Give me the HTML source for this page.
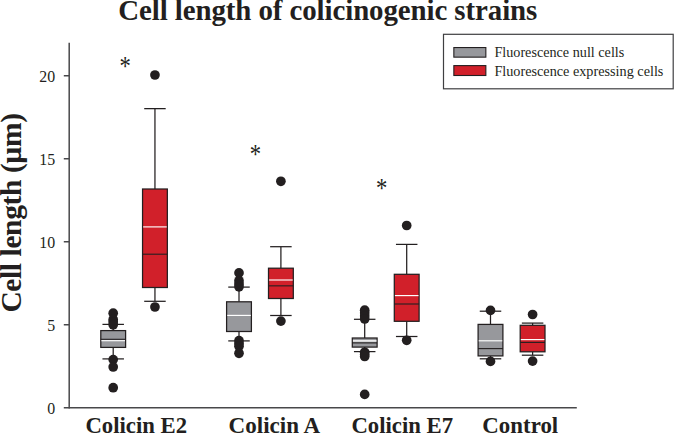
<!DOCTYPE html>
<html lang="en"><head><meta charset="utf-8"><title>Cell length of colicinogenic strains</title>
<style>html,body{margin:0;padding:0;background:#fff}svg{display:block}text{font-family:"Liberation Serif","Times New Roman",serif;fill:#231f20}.b{font-weight:bold}</style></head><body>
<svg width="675" height="434" viewBox="0 0 675 434">
<rect x="0" y="0" width="675" height="434" fill="#fff"/>
<text class="b" x="118.3" y="20.3" font-size="28.9" textLength="419.0" lengthAdjust="spacing">Cell length of colicinogenic strains</text>
<text class="b" transform="translate(20.5,312.6) rotate(-90)" font-size="29.5" textLength="199.6" lengthAdjust="spacing">Cell length (µm)</text>
<g stroke="#48484a" stroke-width="1.5" fill="none">
<line x1="69.2" y1="42.7" x2="69.2" y2="408.5"/>
<line x1="63.800000000000004" y1="407.75" x2="576.8" y2="407.75"/>
<line x1="63.800000000000004" y1="324.75" x2="69.2" y2="324.75"/>
<line x1="63.800000000000004" y1="241.75" x2="69.2" y2="241.75"/>
<line x1="63.800000000000004" y1="158.75" x2="69.2" y2="158.75"/>
<line x1="63.800000000000004" y1="75.75" x2="69.2" y2="75.75"/>
</g>
<text transform="translate(55.2,413.70) scale(0.93,1)" font-size="17.1" text-anchor="end">0</text>
<text transform="translate(55.2,330.70) scale(0.93,1)" font-size="17.1" text-anchor="end">5</text>
<text transform="translate(55.2,247.70) scale(0.93,1)" font-size="17.1" text-anchor="end">10</text>
<text transform="translate(55.2,164.70) scale(0.93,1)" font-size="17.1" text-anchor="end">15</text>
<text transform="translate(55.2,81.70) scale(0.93,1)" font-size="17.1" text-anchor="end">20</text>
<text class="b" x="85.4" y="432.8" font-size="23.4" textLength="101.7" lengthAdjust="spacingAndGlyphs">Colicin E2</text>
<text class="b" x="228.6" y="432.8" font-size="23.4" textLength="91.6" lengthAdjust="spacingAndGlyphs">Colicin A</text>
<text class="b" x="351.4" y="432.8" font-size="23.4" textLength="101.7" lengthAdjust="spacingAndGlyphs">Colicin E7</text>
<text class="b" x="482.3" y="432.8" font-size="23.4" textLength="75.9" lengthAdjust="spacingAndGlyphs">Control</text>
<text transform="translate(125.2,74.76) scale(1.03,1.27)" font-size="22" text-anchor="middle">*</text>
<text transform="translate(255.3,163.16) scale(1.03,1.27)" font-size="22" text-anchor="middle">*</text>
<text transform="translate(381.6,197.06) scale(1.03,1.27)" font-size="22" text-anchor="middle">*</text>
<g stroke="#231f20" stroke-width="1.25" fill="none">
<line x1="113.2" y1="324.4" x2="113.2" y2="330.6"/>
<line x1="113.2" y1="347.4" x2="113.2" y2="358.9"/>
<line x1="102.45" y1="324.4" x2="123.95" y2="324.4"/>
<line x1="102.45" y1="358.9" x2="123.95" y2="358.9"/>
<rect x="100.80" y="330.6" width="24.8" height="16.80" fill="#97989c"/>
<line x1="100.80" y1="339.3" x2="125.60" y2="339.3" stroke-width="1.1"/>
<line x1="101.40" y1="340.7" x2="125.00" y2="340.7" stroke="#ffffff" stroke-width="1.15"/>
<circle cx="113.2" cy="313.2" r="4.85" fill="#231f20" stroke="none"/>
<circle cx="113.2" cy="319.4" r="4.85" fill="#231f20" stroke="none"/>
<circle cx="113.2" cy="322" r="4.85" fill="#231f20" stroke="none"/>
<circle cx="113.2" cy="324.8" r="4.85" fill="#231f20" stroke="none"/>
<circle cx="113.2" cy="359.6" r="4.85" fill="#231f20" stroke="none"/>
<circle cx="113.2" cy="367.0" r="4.85" fill="#231f20" stroke="none"/>
<circle cx="113.2" cy="387.7" r="4.85" fill="#231f20" stroke="none"/>
<line x1="154.95" y1="108.65" x2="154.95" y2="189.0"/>
<line x1="154.95" y1="287.5" x2="154.95" y2="301.3"/>
<line x1="144.2" y1="108.65" x2="165.7" y2="108.65"/>
<line x1="144.2" y1="301.3" x2="165.7" y2="301.3"/>
<rect x="142.55" y="189.0" width="24.8" height="98.50" fill="#d1202a"/>
<line x1="142.55" y1="254.2" x2="167.35" y2="254.2" stroke-width="1.1"/>
<line x1="143.15" y1="226.9" x2="166.75" y2="226.9" stroke="#ffffff" stroke-width="1.15"/>
<circle cx="154.95" cy="75.0" r="4.85" fill="#231f20" stroke="none"/>
<circle cx="154.95" cy="307.0" r="4.85" fill="#231f20" stroke="none"/>
<line x1="239.0" y1="287.1" x2="239.0" y2="301.8"/>
<line x1="239.0" y1="331.5" x2="239.0" y2="340.9"/>
<line x1="228.25" y1="287.1" x2="249.75" y2="287.1"/>
<line x1="228.25" y1="340.9" x2="249.75" y2="340.9"/>
<rect x="226.60" y="301.8" width="24.8" height="29.70" fill="#97989c"/>
<line x1="227.20" y1="315.4" x2="250.80" y2="315.4" stroke="#ffffff" stroke-width="1.15"/>
<circle cx="239.0" cy="272.9" r="4.85" fill="#231f20" stroke="none"/>
<circle cx="239.0" cy="280.8" r="4.85" fill="#231f20" stroke="none"/>
<circle cx="239.0" cy="284" r="4.85" fill="#231f20" stroke="none"/>
<circle cx="239.0" cy="286.8" r="4.85" fill="#231f20" stroke="none"/>
<circle cx="239.0" cy="340.7" r="4.85" fill="#231f20" stroke="none"/>
<circle cx="239.0" cy="343.6" r="4.85" fill="#231f20" stroke="none"/>
<circle cx="239.0" cy="346.2" r="4.85" fill="#231f20" stroke="none"/>
<circle cx="239.0" cy="353.3" r="4.85" fill="#231f20" stroke="none"/>
<line x1="280.9" y1="246.7" x2="280.9" y2="268.2"/>
<line x1="280.9" y1="298.5" x2="280.9" y2="315.5"/>
<line x1="270.15" y1="246.7" x2="291.65" y2="246.7"/>
<line x1="270.15" y1="315.5" x2="291.65" y2="315.5"/>
<rect x="268.50" y="268.2" width="24.8" height="30.30" fill="#d1202a"/>
<line x1="268.50" y1="285.85" x2="293.30" y2="285.85" stroke-width="1.1"/>
<line x1="269.10" y1="280.0" x2="292.70" y2="280.0" stroke="#ffffff" stroke-width="1.15"/>
<circle cx="280.9" cy="181.3" r="4.85" fill="#231f20" stroke="none"/>
<circle cx="280.9" cy="321.1" r="4.85" fill="#231f20" stroke="none"/>
<line x1="364.7" y1="319.3" x2="364.7" y2="338.0"/>
<line x1="364.7" y1="347.1" x2="364.7" y2="351.6"/>
<line x1="353.95" y1="319.3" x2="375.45" y2="319.3"/>
<line x1="353.95" y1="351.6" x2="375.45" y2="351.6"/>
<rect x="352.30" y="338.0" width="24.8" height="9.10" fill="#97989c"/>
<line x1="352.30" y1="342.9" x2="377.10" y2="342.9" stroke-width="1.1"/>
<line x1="352.90" y1="340.9" x2="376.50" y2="340.9" stroke="#ffffff" stroke-width="1.4"/>
<circle cx="364.7" cy="310.2" r="4.85" fill="#231f20" stroke="none"/>
<circle cx="364.7" cy="313" r="4.85" fill="#231f20" stroke="none"/>
<circle cx="364.7" cy="316" r="4.85" fill="#231f20" stroke="none"/>
<circle cx="364.7" cy="319.0" r="4.85" fill="#231f20" stroke="none"/>
<circle cx="364.7" cy="352.3" r="4.85" fill="#231f20" stroke="none"/>
<circle cx="364.7" cy="354.5" r="4.85" fill="#231f20" stroke="none"/>
<circle cx="364.7" cy="356.5" r="4.85" fill="#231f20" stroke="none"/>
<circle cx="364.7" cy="394.4" r="4.85" fill="#231f20" stroke="none"/>
<line x1="406.7" y1="244.4" x2="406.7" y2="274.3"/>
<line x1="406.7" y1="321.3" x2="406.7" y2="336.5"/>
<line x1="395.95" y1="244.4" x2="417.45" y2="244.4"/>
<line x1="395.95" y1="336.5" x2="417.45" y2="336.5"/>
<rect x="394.30" y="274.3" width="24.8" height="47.00" fill="#d1202a"/>
<line x1="394.30" y1="304.0" x2="419.10" y2="304.0" stroke-width="1.1"/>
<line x1="394.90" y1="295.6" x2="418.50" y2="295.6" stroke="#ffffff" stroke-width="1.15"/>
<circle cx="406.7" cy="225.5" r="4.85" fill="#231f20" stroke="none"/>
<circle cx="406.7" cy="340.3" r="4.85" fill="#231f20" stroke="none"/>
<line x1="490.5" y1="311.2" x2="490.5" y2="324.4"/>
<line x1="490.5" y1="355.9" x2="490.5" y2="358.8"/>
<line x1="479.75" y1="311.2" x2="501.25" y2="311.2"/>
<line x1="479.75" y1="358.8" x2="501.25" y2="358.8"/>
<rect x="478.10" y="324.4" width="24.8" height="31.50" fill="#97989c"/>
<line x1="478.10" y1="348.6" x2="502.90" y2="348.6" stroke-width="1.1"/>
<line x1="478.70" y1="340.8" x2="502.30" y2="340.8" stroke="#ffffff" stroke-width="1.15"/>
<circle cx="490.5" cy="310.4" r="4.85" fill="#231f20" stroke="none"/>
<circle cx="490.5" cy="361.4" r="4.85" fill="#231f20" stroke="none"/>
<line x1="532.6" y1="323.1" x2="532.6" y2="325.3"/>
<line x1="532.6" y1="351.8" x2="532.6" y2="355.2"/>
<line x1="521.85" y1="323.1" x2="543.35" y2="323.1"/>
<line x1="521.85" y1="355.2" x2="543.35" y2="355.2"/>
<rect x="520.20" y="325.3" width="24.8" height="26.50" fill="#d1202a"/>
<line x1="520.20" y1="342.4" x2="545.00" y2="342.4" stroke-width="1.1"/>
<line x1="520.80" y1="339.6" x2="544.40" y2="339.6" stroke="#ffffff" stroke-width="1.15"/>
<circle cx="532.6" cy="314.5" r="4.85" fill="#231f20" stroke="none"/>
<circle cx="532.6" cy="361.1" r="4.85" fill="#231f20" stroke="none"/>
</g>
<g stroke="#3f3f41" stroke-width="1.2">
<rect x="443.5" y="34.3" width="229.7" height="54.5" fill="#fff"/>
</g>
<g stroke="#231f20" stroke-width="1.1">
<rect x="453.85" y="47.55" width="32.0" height="9.6" fill="#97989c"/>
<rect x="453.85" y="65.6" width="32.0" height="9.9" fill="#d1202a"/>
</g>
<text x="494.4" y="56.9" font-size="13.7" textLength="129.9" lengthAdjust="spacingAndGlyphs">Fluorescence null cells</text>
<text x="494.4" y="75.7" font-size="13.7" textLength="169.0" lengthAdjust="spacingAndGlyphs">Fluorescence expressing cells</text>
</svg></body></html>
